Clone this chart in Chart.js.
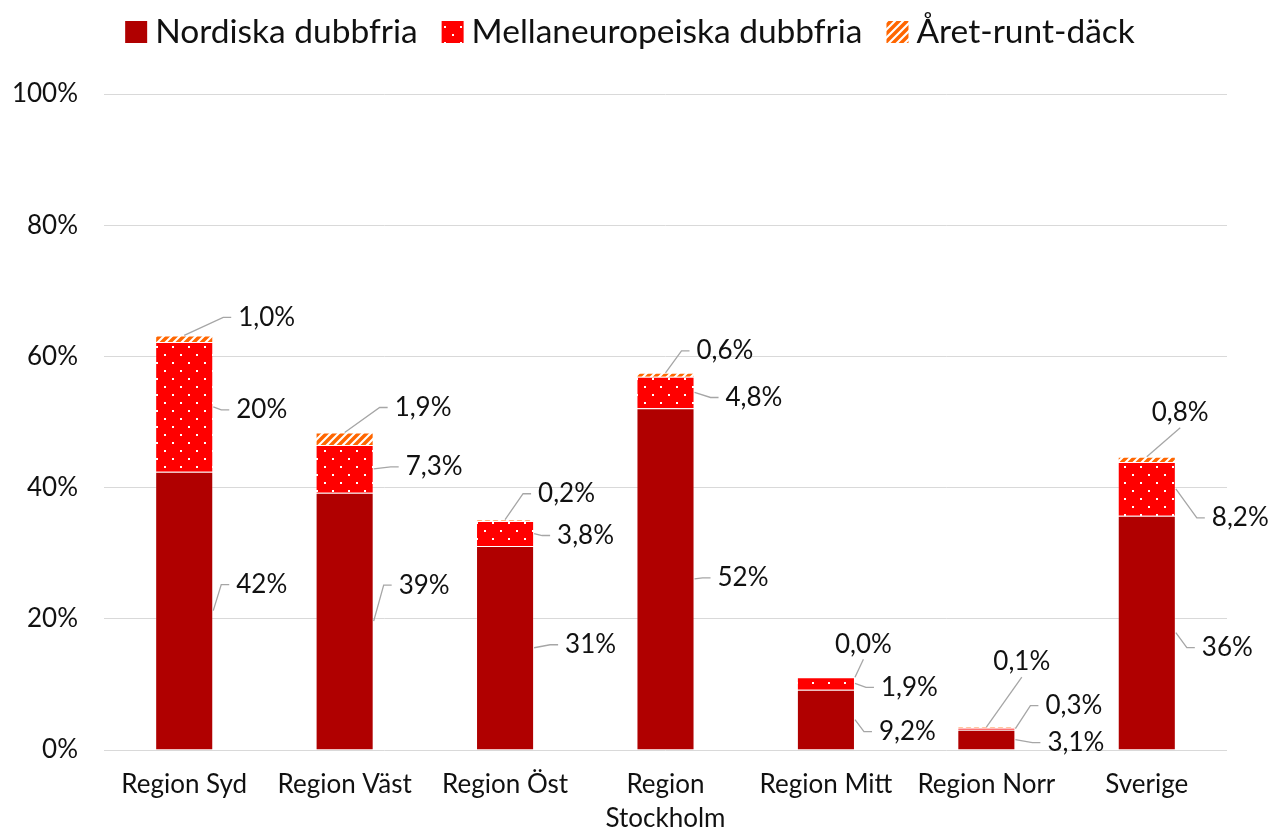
<!DOCTYPE html>
<html lang="sv">
<head>
<meta charset="utf-8">
<title>Dubbfria däck per region</title>
<script src="https://cdn.jsdelivr.net/npm/chart.js@4.4.1/dist/chart.umd.min.js"></script>
<style>
    html, body { margin: 0; padding: 0; background: #ffffff; }
    #wrap { width: 1274px; height: 830px; }
</style>
</head>
<body>
<div id="wrap"><canvas id="tyreChart" width="1274" height="830"></canvas></div>
<script>
// data (percent of cars)
const categories = ['Region Syd', 'Region Väst', 'Region Öst', ['Region', 'Stockholm'], 'Region Mitt', 'Region Norr', 'Sverige'];
const seriesNames = ['Nordiska dubbfria', 'Mellaneuropeiska dubbfria', 'Året-runt-däck'];
const nordiska = [42.4, 39.2, 31.1, 52.1, 9.2, 3.1, 35.7];
const mellaneuropeiska = [19.8, 7.3, 3.8, 4.8, 1.9, 0.3, 8.2];
const aretRunt = [1.0, 1.9, 0.2, 0.6, 0.0, 0.1, 0.8];
const yTicks = [0, 20, 40, 60, 80, 100];

// where each data label sits relative to its anchor on the bar [dx, dy, anchor]
const labelOffsets = [
    [[23, -26], [25, -36], [31, -3], [23, -1], [24, 12], [32, 3], [26, 15]],
    [[23, 3], [32, -2], [23, 2], [31, 5], [26, 4], [30, -23], [36, 29]],
    [[54, -18], [50, -25], [33, -26], [31, -22], [-20, -33, 'topright'], [7, -65], [5, -44]]
];
const labelAnchors = ['right', 'right', 'top'];

const FONT = 'Lato, "Noto Sans", sans-serif';
const TEXT = '#111111';

function dotPattern() {
    const c = document.createElement('canvas');
    c.width = 16; c.height = 16;
    const g = c.getContext('2d');
    g.fillStyle = '#ff0000';
    g.fillRect(0, 0, 16, 16);
    g.fillStyle = '#ffffff';
    g.fillRect(4, 2, 2, 2);
    g.fillRect(12, 10, 2, 2);
    return g.createPattern(c, 'repeat');
}

function stripePattern() {
    const c = document.createElement('canvas');
    c.width = 8; c.height = 8;
    const g = c.getContext('2d');
    g.fillStyle = '#ffffff';
    g.fillRect(0, 0, 8, 8);
    g.strokeStyle = '#ff6600';
    g.lineWidth = 3.5;
    g.beginPath();
    g.moveTo(-2, 10); g.lineTo(10, -2);
    g.moveTo(-6, 6); g.lineTo(6, -6);
    g.moveTo(2, 14); g.lineTo(14, 2);
    g.stroke();
    return g.createPattern(c, 'repeat');
}

function formatPct(v) {
    if (v >= 10) return Math.round(v) + '%';
    return v.toFixed(1).replace('.', ',') + '%';
}

const fills = ['#b00000', dotPattern(), stripePattern()];

// Excel-like labels with grey leader lines
const leaderLabels = {
    id: 'leaderLabels',
    afterDatasetsDraw(chart) {
        const ctx = chart.ctx;
        ctx.save();
        ctx.font = '26px ' + FONT;
        ctx.textBaseline = 'middle';
        ctx.textAlign = 'left';
        chart.data.datasets.forEach((ds, i) => {
            const meta = chart.getDatasetMeta(i);
            meta.data.forEach((bar, j) => {
                const p = bar.getProps(['x', 'y', 'base', 'width'], true);
                const off = labelOffsets[i][j];
                const mode = off[2] || labelAnchors[i];
                let ax, ay;
                if (mode === 'right') { ax = p.x + p.width / 2; ay = (p.y + p.base) / 2; }
                else if (mode === 'topright') { ax = p.x + p.width / 2; ay = p.y; }
                else { ax = p.x; ay = p.y; }
                const tx = ax + off[0];
                const ty = ay + off[1];
                const text = formatPct(ds.data[j]);
                const w = ctx.measureText(text).width;

                ctx.strokeStyle = '#a6a6a6';
                ctx.lineWidth = 1.3;
                ctx.beginPath();
                ctx.moveTo(ax, ay);
                if (tx - ax >= 15) {
                    ctx.lineTo(tx - 15, ty);
                    ctx.lineTo(tx - 7, ty);
                } else {
                    ctx.lineTo(tx + w / 2, ty + 15);
                }
                ctx.stroke();

                ctx.fillStyle = TEXT;
                ctx.fillText(text, tx, ty);
            });
        });
        ctx.restore();
    }
};

// legend on top, square swatches
const topLegend = {
    id: 'topLegend',
    afterDraw(chart) {
        const ctx = chart.ctx;
        ctx.save();
        ctx.font = '33.5px ' + FONT;
        ctx.textBaseline = 'middle';
        const box = 22, gapText = 8, gapItem = 24;
        const widths = seriesNames.map(n => ctx.measureText(n).width);
        const total = widths.reduce((a, w) => a + box + gapText + w, 0) + gapItem * (seriesNames.length - 1);
        let x = chart.width / 2 - total / 2 - 7;
        const cy = 32;
        seriesNames.forEach((name, i) => {
            ctx.fillStyle = fills[i];
            ctx.fillRect(x, cy - box / 2, box, box);
            x += box + gapText;
            ctx.fillStyle = TEXT;
            ctx.fillText(name, x, cy);
            x += widths[i] + gapItem;
        });
        ctx.restore();
    }
};

const seriesData = [nordiska, mellaneuropeiska, aretRunt];

new Chart(document.getElementById('tyreChart'), {
    type: 'bar',
    data: {
        labels: categories,
        datasets: seriesNames.map((name, i) => ({
            label: name,
            data: seriesData[i],
            backgroundColor: fills[i],
            borderColor: 'rgba(255, 255, 255, 0.22)',
            borderWidth: 1,
            categoryPercentage: 1,
            barPercentage: 0.362
        }))
    },
    options: {
        responsive: false,
        animation: false,
        layout: { padding: { top: 94, right: 47, left: 0, bottom: 0 } },
        plugins: {
            legend: { display: false },
            tooltip: { enabled: false }
        },
        scales: {
            x: {
                stacked: true,
                grid: { display: false },
                border: { display: false },
                ticks: {
                    color: TEXT,
                    font: { family: FONT, size: 26, lineHeight: 1.3 },
                    padding: 10,
                    maxRotation: 0,
                    autoSkip: false
                },
                afterFit(scale) { scale.height = 80; }
            },
            y: {
                stacked: true,
                min: 0,
                max: 100,
                afterBuildTicks(scale) { scale.ticks = yTicks.map(v => ({ value: v })); },
                grid: { color: '#d9d9d9', lineWidth: 1, drawTicks: false },
                border: { display: false },
                ticks: {
                    color: TEXT,
                    font: { family: FONT, size: 26 },
                    padding: 26,
                    callback: v => v + '%'
                },
                afterFit(scale) { scale.width = 104; }
            }
        }
    },
    plugins: [leaderLabels, topLegend]
});
</script>
</body>
</html>
